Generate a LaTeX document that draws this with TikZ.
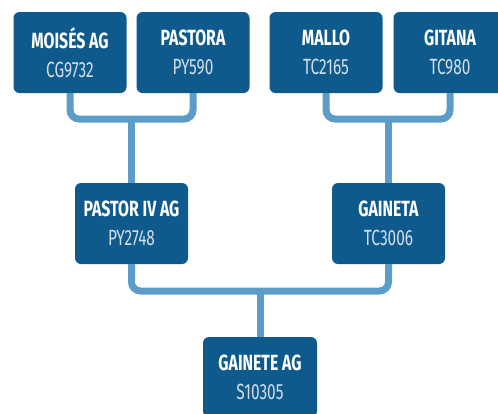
\documentclass[tikz,border=0pt]{standalone}
\usepackage{fontspec}
\setmainfont{Fira Sans}
\newfontfamily\namefont[FakeStretch=0.72]{Fira Sans}
\newfontfamily\codefont[FakeStretch=0.70]{Fira Sans}
\definecolor{boxblue}{HTML}{0E5A8C}
\definecolor{linkblue}{HTML}{5B9CC9}
\definecolor{codegray}{HTML}{D4DEEA}
\newcommand\horselabel[2]{{\namefont\bfseries #1}\\{\codefont\color{codegray}#2}}

\begin{document}
\begin{tikzpicture}[x=1pt,y=-1pt,
  horse/.style={fill=boxblue, rounded corners=6pt, minimum width=113pt, minimum height=81pt,
    inner sep=0pt, align=center, text=white, font=\fontsize{22}{29}\selectfont},
  link/.style={draw=linkblue, line width=7pt, rounded corners=9pt}]
\clip (0,0) rectangle (498,413);
\fill[white] (0,0) rectangle (498,413);
% grandparents
\node[horse] (moises) at (70,52.5) {\horselabel{MOISÉS AG}{CG9732}};
\node[horse] (pastora) at (193,52.5) {\horselabel{PASTORA}{PY590}};
\node[horse] (mallo) at (326,52.5) {\horselabel{MALLO}{TC2165}};
\node[horse] (gitana) at (450,52.5) {\horselabel{GITANA}{TC980}};
% parents
\node[horse] (pastor) at (131.5,223.5) {\horselabel{PASTOR IV AG}{PY2748}};
\node[horse] (gaineta) at (388.5,223.5) {\horselabel{GAINETA}{TC3006}};
% offspring
\node[horse, minimum width=114pt, minimum height=80pt] (gainete) at (260,377) {\horselabel{GAINETE AG}{S10305}};
% junctions
\coordinate (sire) at (131.5,119);
\coordinate (dam) at (388.5,119);
\coordinate (foal) at (260,291);
\draw[link] (moises) |- (sire) -| (pastora);
\draw[link] (sire) -- (pastor);
\draw[link] (mallo) |- (dam) -| (gitana);
\draw[link] (dam) -- (gaineta);
\draw[link] (pastor) |- (foal) -| (gaineta);
\draw[link] (foal) -- (gainete);
\end{tikzpicture}
\end{document}
